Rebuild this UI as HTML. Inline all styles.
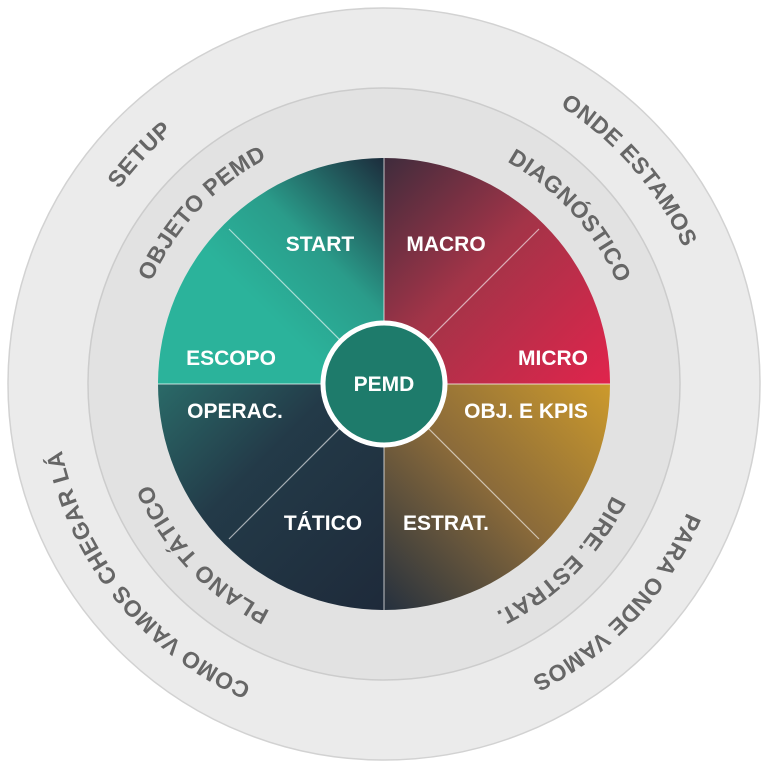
<!DOCTYPE html>
<html><head><meta charset="utf-8"><style>
html,body{margin:0;padding:0;background:#fff;}
svg{display:block;font-family:"Liberation Sans",sans-serif;font-weight:bold;}
</style></head><body>
<svg width="768" height="768" viewBox="0 0 768 768">
<defs>
<linearGradient id="gTL" x1="1" y1="0" x2="0" y2="1">
<stop offset="0" stop-color="#1c2c3c"/><stop offset="0.35" stop-color="#2a9c8a"/><stop offset="0.6" stop-color="#2bb39b"/><stop offset="1" stop-color="#2bb39b"/></linearGradient>
<linearGradient id="gTR" x1="0" y1="0" x2="1" y2="1">
<stop offset="0" stop-color="#3f2c3c"/><stop offset="0.45" stop-color="#a33448"/><stop offset="1" stop-color="#e0244c"/></linearGradient>
<linearGradient id="gBR" x1="1" y1="0" x2="0" y2="1">
<stop offset="0" stop-color="#cc9a2c"/><stop offset="0.5" stop-color="#8a6a3a"/><stop offset="1" stop-color="#25303e"/></linearGradient>
<linearGradient id="gBL" x1="0" y1="0" x2="1" y2="1">
<stop offset="0" stop-color="#2a6a68"/><stop offset="0.4" stop-color="#233a48"/><stop offset="1" stop-color="#1e2a3a"/></linearGradient>
<path id="pO" d="M384,55 A329,329 0 1 1 384,713 A329,329 0 1 1 384,55"/>
<path id="pM" d="M384,130 A254,254 0 1 1 384,638 A254,254 0 1 1 384,130"/>
</defs>
<circle cx="384" cy="384" r="376" fill="#ebebeb" stroke="#d2d2d2" stroke-width="1.5"/>
<circle cx="384" cy="384" r="296" fill="#e2e2e2" stroke="#cccccc" stroke-width="1.5"/>
<path d="M384,384 L158,384 A226,226 0 0 1 384,158 Z" fill="url(#gTL)"/>
<path d="M384,384 L384,158 A226,226 0 0 1 610,384 Z" fill="url(#gTR)"/>
<path d="M384,384 L610,384 A226,226 0 0 1 384,610 Z" fill="url(#gBR)"/>
<path d="M384,384 L384,610 A226,226 0 0 1 158,384 Z" fill="url(#gBL)"/>
<g stroke="#ffffff" stroke-opacity="0.6" stroke-width="1.2">
<line x1="384" y1="158" x2="384" y2="610"/>
<line x1="158" y1="384" x2="610" y2="384"/>
<line x1="229" y1="229" x2="539" y2="539"/>
<line x1="539" y1="229" x2="229" y2="539"/>
</g>
<circle cx="384" cy="384" r="61" fill="#1e7b6b" stroke="#fff" stroke-width="5"/>
<g fill="#fff" font-size="21" text-anchor="middle">
<text x="384" y="391">PEMD</text>
<text x="320" y="251">START</text>
<text x="446" y="251">MACRO</text>
<text x="231" y="365">ESCOPO</text>
<text x="553" y="365">MICRO</text>
<text x="235" y="418">OPERAC.</text>
<text x="526" y="418">OBJ. E KPIS</text>
<text x="323" y="530">TÁTICO</text>
<text x="446" y="530">ESTRAT.</text>
</g>
<g fill="#666" font-size="23" text-anchor="middle" letter-spacing="0.5">
<text><textPath href="#pO" startOffset="87%">SETUP</textPath></text>
<text><textPath href="#pO" startOffset="13.6%">ONDE ESTAMOS</textPath></text>
<text><textPath href="#pO" startOffset="37%">PARA ONDE VAMOS</textPath></text>
<text><textPath href="#pO" startOffset="64.2%">COMO VAMOS CHEGAR LÁ</textPath></text>
<text><textPath href="#pM" startOffset="87%">OBJETO PEMD</textPath></text>
<text><textPath href="#pM" startOffset="13.3%">DIAGNÓSTICO</textPath></text>
<text><textPath href="#pM" startOffset="37.5%">DIRE. ESTRAT.</textPath></text>
<text><textPath href="#pM" startOffset="63%">PLANO TÁTICO</textPath></text>
</g>
</svg>
</body></html>
